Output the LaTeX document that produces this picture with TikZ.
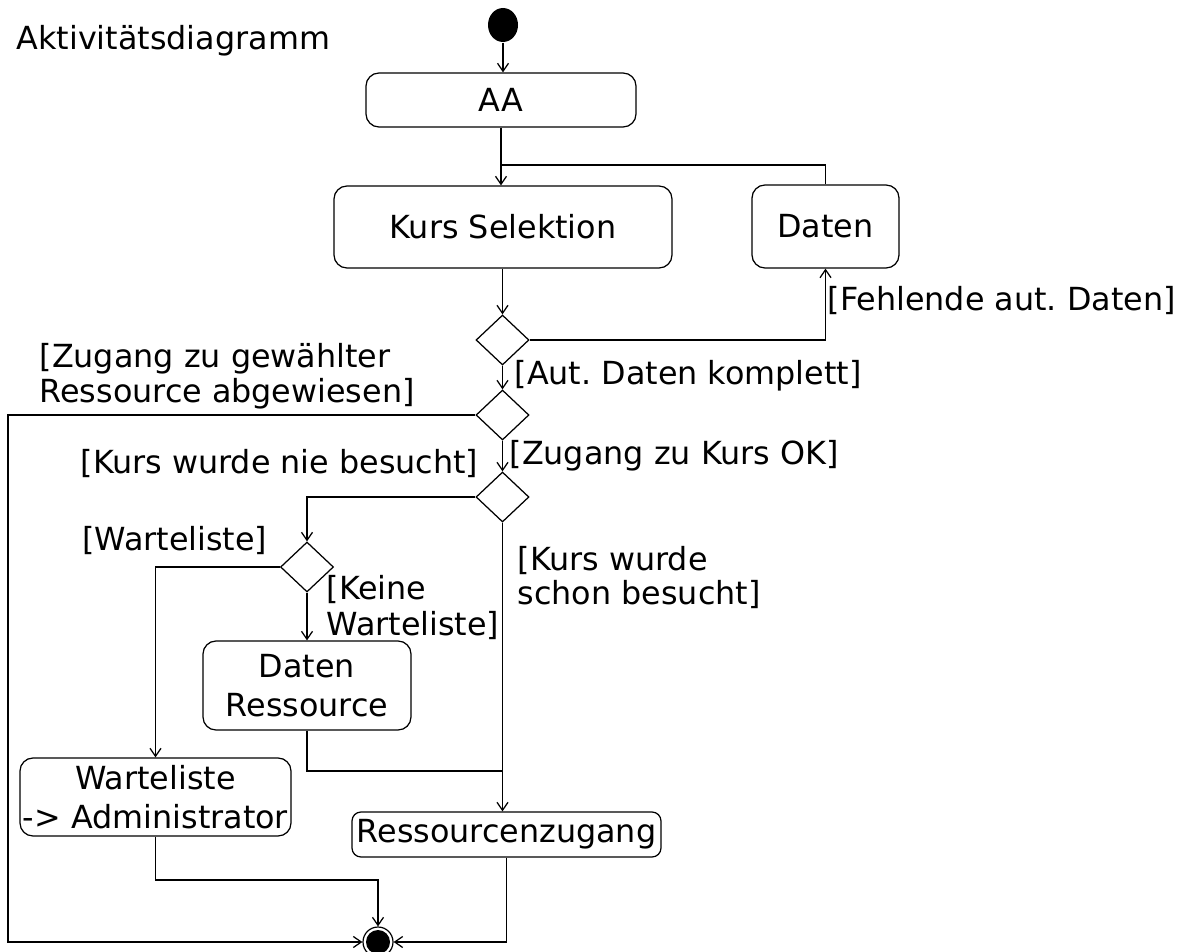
\documentclass[tikz,border=0pt]{standalone}
\usepackage{fontspec}
\setmainfont{DejaVu Sans}
\usetikzlibrary{arrows.meta,shapes.geometric}
\frenchspacing

\begin{document}
\begin{tikzpicture}[x=1pt,y=-1pt,
  line width=1.25pt,
  every node/.style={inner sep=0pt, font=\fontsize{31.8}{35}\selectfont},
  action/.style={draw, rounded corners=13pt, align=center,
    font=\fontsize{31.8}{39}\selectfont},
  decision/.style={draw, diamond, minimum width=53pt, minimum height=50pt},
  guard/.style={align=left},
  flow/.style={-{Straight Barb[length=8pt,width=11pt]}},
]
\useasboundingbox (0,0) rectangle (1193,952);

% title
\node[anchor=base west] (title) at (16,50) {Aktivitätsdiagramm};

% initial and final nodes
\node[fill, ellipse, minimum width=30pt, minimum height=34pt] (start) at (503,25) {};
\node[draw, circle, minimum size=30pt, line width=1.2pt] (end) at (378,942) {};
\node[fill, circle, minimum size=24pt] (endcore) at (end) {};

% actions
\node[action, minimum width=270pt, minimum height=54pt] (aa) at (501,100) {AA};
\node[action, minimum width=338pt, minimum height=82pt] (kurs) at (503,227) {Kurs Selektion};
\node[action, minimum width=147pt, minimum height=83pt] (daten) at (825.5,226.5) {Daten};
\node[action, minimum width=208pt, minimum height=89pt] (dres) at (307,685.5) {Daten\\Ressource};
\node[action, minimum width=271pt, minimum height=78pt] (warte) at (155.5,797) {Warteliste\\-> Administrator};
\node[action, minimum width=309pt, minimum height=45pt, rounded corners=9pt] (rz) at (506.5,834.5) {Ressourcenzugang};

% decisions
\node[decision] (d1) at (502.5,340) {};
\node[decision] (d2) at (502.5,415) {};
\node[decision] (d3) at (502.5,497) {};
\node[decision] (d4) at (307,567) {};

% guards
\node[anchor=base west] (gFehl) at (827,310) {[Fehlende aut. Daten]};
\node[anchor=base west] (gKompl) at (514,384) {[Aut. Daten komplett]};
\node[guard, anchor=north west] (gAbgew) at (39,343) {[Zugang zu gewählter\\Ressource abgewiesen]};
\node[anchor=base west] (gOK) at (509,464) {[Zugang zu Kurs OK]};
\node[anchor=base east] (gNie) at (479,473) {[Kurs wurde nie besucht]};
\node[anchor=base east] (gWarte) at (268,550) {[Warteliste]};
\node[guard, anchor=north west, font=\fontsize{31.8}{36}\selectfont] (gKeine) at (326,575) {[Keine\\Warteliste]};
\node[guard, anchor=north west, font=\fontsize{31.8}{34}\selectfont] (gSchon) at (517,546) {[Kurs wurde\\schon besucht]};

% bend points
\coordinate (merge) at (501,165);
\coordinate (railL) at (8,415);
\coordinate (join) at (502.5,771);
\coordinate (wbend) at (155.5,880);

% control flow
\draw[flow] (start.south) -- (start.south |- aa.north);
\draw[flow] (aa.south) -- (aa.south |- kurs.north);
\draw (daten.north) |- (merge);
\draw[flow] (d1.north |- kurs.south) -- (d1.north);
\draw[flow] (d1.east) -| (daten.south);
\draw[flow] (d1.south) -- (d2.north);
\draw[flow] (d2.west) -- (railL) |- (end.west);
\draw[flow] (d2.south) -- (d3.north);
\draw[flow] (d3.west) -| (d4.north);
\draw[flow] (d3.south) -- (d3.south |- rz.north);
\draw[flow] (d4.west) -| (warte.north);
\draw[flow] (d4.south) -- (dres.north);
\draw (dres.south) |- (join);
\draw[flow] (warte.south) -- (wbend) -| (end.north);
\draw[flow] (rz.south) |- (end.east);
\end{tikzpicture}
\end{document}
